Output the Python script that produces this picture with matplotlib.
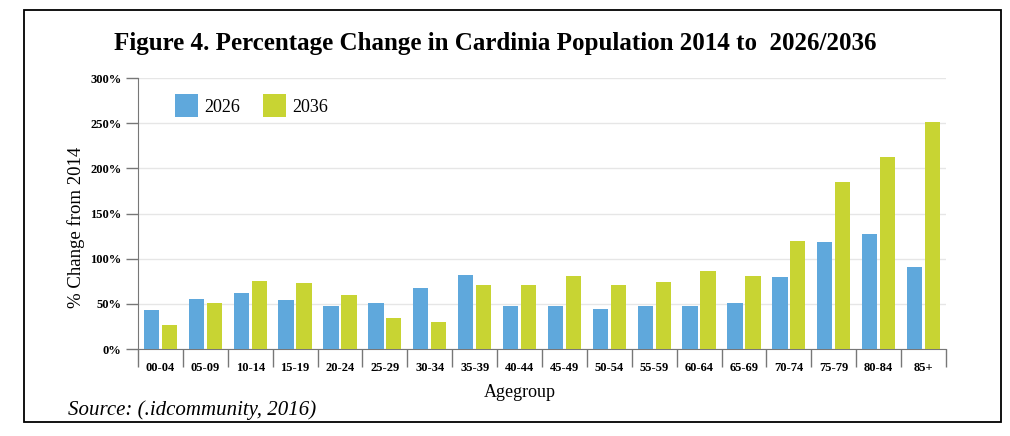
import numpy as np
import matplotlib.pyplot as plt
from matplotlib.patches import Rectangle

plt.rcParams['font.family'] = ['Liberation Serif', 'DejaVu Serif']

age_groups = ['00-04', '05-09', '10-14', '15-19', '20-24', '25-29', '30-34', '35-39',
              '40-44', '45-49', '50-54', '55-59', '60-64', '65-69', '70-74', '75-79',
              '80-84', '85+']
change_2026 = [43.5, 55.7, 61.6, 54.2, 48.0, 50.9, 67.9, 81.5, 47.6, 47.6, 44.6, 47.6,
               47.6, 50.9, 80.1, 118.5, 127.7, 90.8]
change_2036 = [26.2, 50.9, 75.6, 72.7, 60.1, 34.3, 30.3, 70.5, 70.5, 80.4, 70.5, 74.2,
               86.3, 81.2, 119.9, 184.9, 212.5, 251.3]
y_ticks = [0, 50, 100, 150, 200, 250, 300]

blue = '#5fa8dc'
green = '#c8d433'
grey = '#777777'

fig = plt.figure(figsize=(10.1, 4.36), dpi=100)
ax = fig.add_axes([0.1366, 0.1995, 0.8, 0.6215])

x = np.arange(len(age_groups))
w = 0.34
ax.bar(x - w / 2 - 0.03, change_2026, width=w, color=blue, label='2026', zorder=3)
ax.bar(x + w / 2 + 0.03, change_2036, width=w, color=green, label='2036', zorder=3)

ax.set_xlim(-0.5, len(age_groups) - 0.5)
ax.set_ylim(0, 300)
ax.set_yticks(y_ticks)
ax.set_yticklabels([f'{v}%' for v in y_ticks], fontsize=9, fontweight='bold')
ax.yaxis.grid(True, color='#e6e6e6', linewidth=1, zorder=0)

# ticks between groups, labels in the middle
ax.set_xticks(np.arange(len(age_groups) + 1) - 0.5)
ax.set_xticklabels([])
ax.set_xticks(x, minor=True)
ax.set_xticklabels(age_groups, minor=True, fontsize=9, fontweight='bold')
ax.tick_params(axis='x', which='major', length=13, color=grey, width=1)
ax.tick_params(axis='x', which='minor', length=0, pad=9)
ax.tick_params(axis='y', length=9, color=grey, width=1, pad=3)

for s in ['top', 'right']:
    ax.spines[s].set_visible(False)
ax.spines['left'].set_color(grey)
ax.spines['bottom'].set_color(grey)

ax.set_ylabel('% Change from 2014', fontsize=13.5)
ax.yaxis.set_label_coords(-0.066, 0.45)
ax.set_xlabel('Agegroup', fontsize=13)
ax.xaxis.set_label_coords(0.473, -0.13)

ax.legend(loc='upper left', bbox_to_anchor=(0.026, 1.0), ncol=2, frameon=False,
          fontsize=13, handlelength=1.25, handleheight=1.6, columnspacing=1.3,
          handletextpad=0.35)

fig.text(0.49, 0.9, 'Figure 4. Percentage Change in Cardinia Population 2014 to  2026/2036',
         ha='center', va='center', fontsize=18, fontweight='bold')
fig.text(0.067, 0.06, 'Source: (.idcommunity, 2016)', ha='left', va='center',
         fontsize=15, style='italic')

fig.patches.append(Rectangle((24 / 1010, 14 / 436), 977 / 1010, 412 / 436,
                             transform=fig.transFigure, fill=False,
                             edgecolor='black', linewidth=1.3))

fig.savefig('out.png', dpi=100)
